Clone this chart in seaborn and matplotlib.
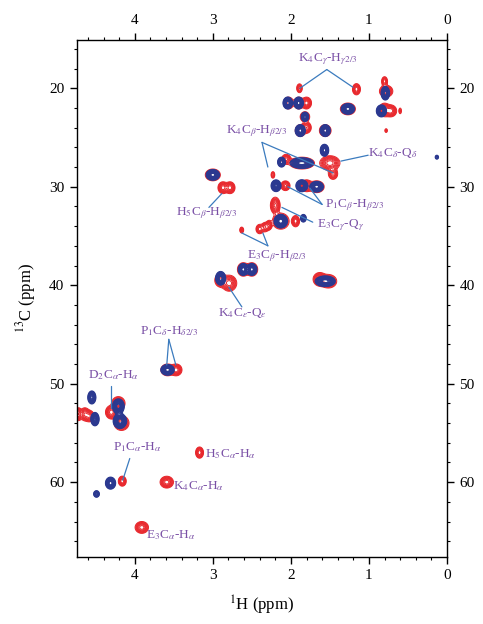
import numpy as np
import matplotlib
matplotlib.use('Agg')
import matplotlib.pyplot as plt
from matplotlib.ticker import MultipleLocator
import seaborn as sns

sns.set_theme(style='ticks')
plt.rcParams['font.family'] = ['Liberation Serif', 'DejaVu Serif']
plt.rcParams['mathtext.fontset'] = 'stix'

# ---------------- peak data (1H ppm, 13C ppm, amplitude, widths) ----------------
blue_h = [0.79, 2.04, 1.90, 1.27, 0.84, 1.82, 1.88, 1.56, 1.57, 2.12, 1.86, 0.13,
          3.00, 2.19, 1.86, 1.67, 2.13, 1.84, 2.61, 2.50, 2.90, 1.56, 3.58,
          4.55, 4.51, 4.21, 4.19, 4.31, 4.49]
blue_c = [20.5, 21.5, 21.5, 22.1, 22.3, 22.9, 24.3, 24.3, 26.3, 27.5, 27.6, 27.0,
          28.8, 29.9, 29.9, 30.0, 33.5, 33.2, 38.4, 38.4, 39.3, 39.6, 48.6,
          51.4, 53.6, 52.3, 53.8, 60.1, 61.2]
blue_a = [1.0, 1.0, 1.0, 1.0, 1.0, 0.6, 1.0, 1.0, 1.0, 0.7, 1.0, 0.25,
          1.0, 0.9, 1.0, 1.0, 1.0, 0.5, 1.0, 1.0, 1.0, 1.0, 1.0,
          0.8, 0.9, 1.0, 1.0, 1.0, 0.5]
blue_wh = [0.025, 0.028, 0.028, 0.040, 0.030, 0.025, 0.030, 0.030, 0.025, 0.025, 0.070, 0.015,
           0.040, 0.030, 0.035, 0.040, 0.040, 0.020, 0.030, 0.030, 0.030, 0.060, 0.040,
           0.025, 0.025, 0.035, 0.040, 0.030, 0.020]
blue_wc = [0.32, 0.28, 0.28, 0.25, 0.28, 0.25, 0.28, 0.28, 0.28, 0.25, 0.25, 0.14,
           0.25, 0.28, 0.28, 0.25, 0.32, 0.21, 0.28, 0.28, 0.32, 0.25, 0.25,
           0.32, 0.32, 0.35, 0.35, 0.28, 0.18]

red_h = [1.89, 1.16, 0.78, 0.80, 2.03, 1.90, 1.80, 1.27, 0.80, 0.72, 0.60, 1.82,
         1.80, 1.88, 1.56, 0.78, 2.06, 1.86, 1.50, 1.46, 3.00, 2.23, 2.87, 2.78,
         2.07, 1.80, 1.67, 2.20, 2.13, 1.94, 2.63, 2.40, 2.33, 2.28, 2.61, 2.50,
         2.79, 2.90, 1.63, 1.52, 3.47, 3.58, 4.64, 4.58, 4.72, 4.30, 4.21, 4.17,
         4.16, 3.59, 3.17, 3.91]
red_c = [20.0, 20.1, 20.3, 19.3, 21.5, 21.5, 21.5, 22.1, 22.2, 22.3, 22.3, 22.9,
         24.0, 24.3, 24.3, 24.3, 27.2, 27.6, 27.6, 28.7, 28.8, 28.8, 30.1, 30.1,
         29.9, 29.9, 30.0, 31.9, 33.5, 33.5, 34.4, 34.3, 34.1, 33.9, 38.4, 38.4,
         39.8, 39.5, 39.4, 39.6, 48.6, 48.6, 53.1, 53.3, 53.1, 52.9, 52.0, 54.0,
         59.9, 60.0, 57.0, 64.6]
red_a = [0.5, 0.8, 1.0, 0.6, 1.0, 1.0, 1.0, 1.0, 1.0, 1.0, 0.25, 0.8,
         0.8, 1.0, 1.0, 0.25, 0.7, 1.0, 1.0, 0.7, 1.0, 0.35, 1.0, 1.0,
         0.7, 1.0, 1.0, 0.9, 1.0, 0.8, 0.4, 0.6, 0.6, 0.6, 1.0, 1.0,
         1.0, 1.0, 1.0, 1.0, 1.0, 1.0, 0.8, 0.8, 0.8, 1.0, 1.0, 1.0,
         0.8, 1.0, 0.8, 1.0]
red_wh = [0.020, 0.025, 0.040, 0.020, 0.030, 0.030, 0.030, 0.045, 0.035, 0.035, 0.012, 0.030,
          0.030, 0.030, 0.035, 0.012, 0.030, 0.075, 0.060, 0.030, 0.045, 0.015, 0.030, 0.030,
          0.030, 0.035, 0.045, 0.030, 0.050, 0.025, 0.015, 0.025, 0.025, 0.020, 0.035, 0.035,
          0.045, 0.035, 0.040, 0.050, 0.035, 0.040, 0.030, 0.030, 0.020, 0.035, 0.040, 0.045,
          0.025, 0.040, 0.025, 0.040]
red_wc = [0.25, 0.28, 0.28, 0.25, 0.28, 0.28, 0.28, 0.28, 0.32, 0.28, 0.21, 0.25,
          0.28, 0.28, 0.28, 0.14, 0.25, 0.28, 0.35, 0.28, 0.28, 0.21, 0.28, 0.28,
          0.25, 0.28, 0.28, 0.40, 0.38, 0.28, 0.18, 0.25, 0.25, 0.25, 0.32, 0.32,
          0.38, 0.32, 0.32, 0.32, 0.28, 0.28, 0.32, 0.28, 0.32, 0.32, 0.32, 0.35,
          0.25, 0.28, 0.28, 0.28]

# ---------------- annotations ----------------
label_text = ['K$_4$C$_\\gamma$-H$_{\\gamma2/3}$', 'K$_4$C$_\\beta$-H$_{\\beta2/3}$',
              'K$_4$C$_\\delta$-Q$_\\delta$', 'H$_5$C$_\\beta$-H$_{\\beta2/3}$',
              'P$_1$C$_\\beta$-H$_{\\beta2/3}$', 'E$_3$C$_\\gamma$-Q$_\\gamma$',
              'E$_3$C$_\\beta$-H$_{\\beta2/3}$', 'K$_4$C$_\\varepsilon$-Q$_\\varepsilon$',
              'P$_1$C$_\\delta$-H$_{\\delta2/3}$', 'D$_2$C$_\\alpha$-H$_\\alpha$',
              'P$_1$C$_\\alpha$-H$_\\alpha$', 'H$_5$C$_\\alpha$-H$_\\alpha$',
              'K$_4$C$_\\alpha$-H$_\\alpha$', 'E$_3$C$_\\alpha$-H$_\\alpha$']
label_h = [1.53, 2.44, 1.01, 3.08, 1.56, 1.67, 2.18, 2.62, 3.56, 4.27, 3.97, 3.10, 3.51, 3.85]
label_c = [17.0, 24.4, 26.6, 32.7, 31.9, 33.9, 37.0, 42.8, 44.7, 49.1, 56.4, 57.2, 60.4, 65.4]
label_ha = ['center', 'center', 'left', 'center', 'left', 'left', 'center', 'center',
            'center', 'center', 'center', 'left', 'left', 'left']

# leader lines: (h0, c0, h1, c1)
leader_lines = [
    (1.54, 18.1, 1.885, 20.0), (1.54, 18.1, 1.205, 19.9),
    (2.37, 25.5, 2.295, 28.0), (2.37, 25.5, 1.46, 28.6),
    (1.01, 26.8, 1.36, 27.4),
    (3.05, 32.1, 2.885, 30.7),
    (1.60, 31.8, 2.04, 30.0), (1.60, 31.8, 1.756, 30.15),
    (1.72, 33.6, 2.115, 32.1),
    (2.295, 36.0, 2.628, 34.7), (2.295, 36.0, 2.359, 34.7),
    (2.628, 42.2, 2.795, 40.2),
    (3.564, 45.5, 3.59, 48.1), (3.564, 45.5, 3.474, 48.1),
    (4.308, 50.2, 4.308, 52.5),
    (4.064, 57.6, 4.154, 59.8),
]

# ---------------- build spectra ----------------
Hg = np.linspace(-0.1, 4.9, 1000)
Cg = np.linspace(13.0, 70.0, 1100)
HH, CC = np.meshgrid(Hg, Cg)


def spectrum(hs, cs, amps, whs, wcs):
    Z = np.zeros_like(HH)
    for h, c, a, wh, wc in zip(hs, cs, amps, whs, wcs):
        Z += a * np.exp(-0.5 * ((HH - h) / wh) ** 2 - 0.5 * ((CC - c) / wc) ** 2)
    return Z


Zr = spectrum(red_h, red_c, red_a, red_wh, red_wc)
Zb = spectrum(blue_h, blue_c, blue_a, blue_wh, blue_wc)

fig = plt.figure(figsize=(4.83, 6.24), dpi=100)
ax = fig.add_axes([0.1594, 0.1074, 0.7661, 0.8285])

red_levels = [0.10, 0.15, 0.21, 0.28, 0.37, 0.48, 0.62, 0.80]
blue_levels = [0.10, 0.14, 0.19, 0.25, 0.32, 0.40, 0.49, 0.59, 0.70, 0.82]
ax.contour(HH, CC, Zr, levels=red_levels, colors='#E8262B', linewidths=0.7)
ax.contour(HH, CC, Zb, levels=blue_levels, colors='#2B3990', linewidths=0.9)

for txt, h, c, ha in zip(label_text, label_h, label_c, label_ha):
    ax.text(h, c, txt, ha=ha, va='center', fontsize=9.5, color='#7A50A6')
for h0, c0, h1, c1 in leader_lines:
    ax.plot([h0, h1], [c0, c1], color='#3B7BBE', lw=0.9)

ax.set_xlim(4.74, 0)
ax.set_ylim(67.6, 15.1)
ax.set_xticks([0, 1, 2, 3, 4])
ax.set_yticks([20, 30, 40, 50, 60])
ax.xaxis.set_minor_locator(MultipleLocator(0.2))
ax.yaxis.set_minor_locator(MultipleLocator(2))
ax.tick_params(which='both', direction='out', top=True, right=True,
               labeltop=True, labelright=True, colors='black', labelsize=11)
ax.tick_params(which='major', length=5, width=1.0, pad=4)
ax.tick_params(which='minor', length=2.5, width=0.8)
for s in ax.spines.values():
    s.set_color('black')
    s.set_linewidth(1.0)
ax.set_xlabel('$^{1}$H (ppm)', fontsize=12, color='black', labelpad=8)
ax.set_ylabel('$^{13}$C (ppm)', fontsize=12, color='black', labelpad=8)
ax.set_facecolor('white')
fig.patch.set_facecolor('white')

fig.savefig('out.png', dpi=100)
